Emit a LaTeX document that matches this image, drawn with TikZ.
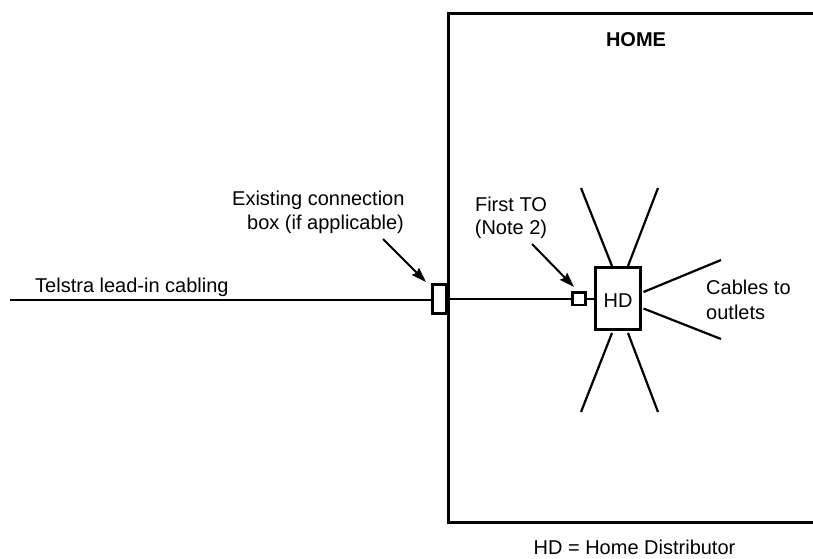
\documentclass[tikz,border=0pt]{standalone}
\usepackage{fontspec}
\setmainfont{Liberation Sans}
\usetikzlibrary{positioning, arrows.meta}

\begin{document}
\begin{tikzpicture}[
        x=1pt, y=-1pt,
        % Text style
        every node/.style={font=\fontsize{20}{24}\selectfont, inner sep=0pt},
        % Line styles
        wire/.style={line width=2.2pt},
        homeline/.style={line width=3pt},
        pointer/.style={line width=2pt, -{Stealth[length=15pt, width=10pt, inset=2pt]}}
    ]
    \useasboundingbox (0,0) rectangle (813,558);

    %% ---- Home outline, open at the right ----
    \draw[homeline] (813,13) -- (448,13) -- (448,522.5) -- (813,522.5);
    \node[font=\fontsize{20}{24}\selectfont\bfseries, anchor=base] (hometext) at (636,46) {HOME};

    %% ---- Boxes ----
    \node[draw, line width=3.3pt, fill=white, minimum width=14pt, minimum height=29pt] (conn) at (439.5,298.8) {};
    \node[draw, line width=2.2pt, minimum width=13pt, minimum height=12.7pt] (to) at (579,298.9) {};
    \node[draw, line width=2.7pt, minimum width=45pt, minimum height=61.6pt] (hd) at (618,298.5) {};
    \node[anchor=base] (hdtext) at (618,307) {HD};

    %% ---- Free ends ----
    \coordinate (leadend) at (10,299.6);
    \coordinate (cableaout) at (581,188);
    \coordinate (cableain) at (612,266);
    \coordinate (cablebout) at (658,188);
    \coordinate (cablebin) at (628,266);
    \coordinate (cablecout) at (721,260);
    \coordinate (cablecin) at (643.5,292);
    \coordinate (cabledout) at (721,339);
    \coordinate (cabledin) at (643.5,308.5);
    \coordinate (cableeout) at (581,412);
    \coordinate (cableein) at (612,333);
    \coordinate (cablefout) at (658,412);
    \coordinate (cablefin) at (628,333);
    \coordinate (existfrom) at (383,239);
    \coordinate (existto) at (426,282);
    \coordinate (firstfrom) at (532,244);
    \coordinate (firstto) at (574,287);

    %% ---- Lines ----
    \draw[wire] (leadend) -- (conn.west |- leadend);
    \draw[wire] (conn.east |- to) -- (to.west);
    \draw[wire] (to.east) -- (hd.west |- to);

    %% ---- Cables ----
    \draw[wire] (cableaout) -- (cableain);
    \draw[wire] (cablebout) -- (cablebin);
    \draw[wire] (cablecout) -- (cablecin);
    \draw[wire] (cabledout) -- (cabledin);
    \draw[wire] (cableeout) -- (cableein);
    \draw[wire] (cablefout) -- (cablefin);

    %% ---- Labels ----
    \node[anchor=base west] (lead) at (35,292) {Telstra lead-in cabling};
    \node[anchor=base west] (existing) at (232,205) {Existing connection};
    \node[anchor=base west] (existingb) at (247,229) {box (if applicable)};
    \node[anchor=base] (first) at (511,211) {First TO};
    \node[anchor=base] (firstb) at (511,234) {(Note 2)};
    \node[anchor=base west] (outlets) at (706,294) {Cables to};
    \node[anchor=base west] (outletsb) at (706,319) {outlets};
    \node[anchor=base] (legend) at (634.5,554) {HD = Home Distributor};

    %% ---- Pointers ----
    \draw[pointer] (existfrom) -- (existto);
    \draw[pointer] (firstfrom) -- (firstto);
\end{tikzpicture}
\end{document}
